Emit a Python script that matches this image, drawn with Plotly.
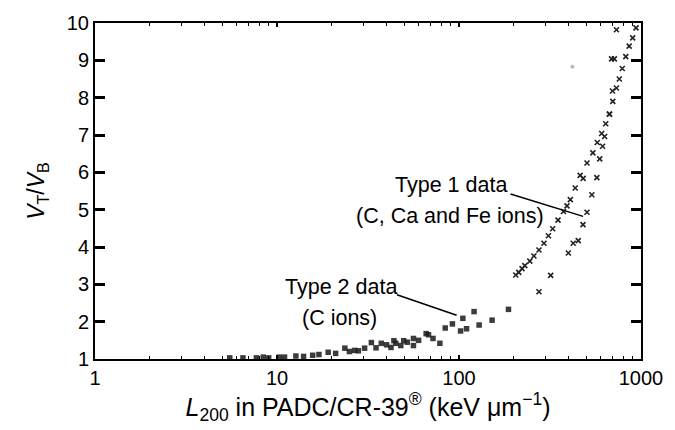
import plotly.graph_objects as go

# Type 1 data (C, Ca and Fe ions): two steep branches
type1a_let = [205, 213, 222, 230, 245, 258, 275, 293, 310, 327, 350, 375, 392, 409,
              435, 463, 481, 505, 544, 575, 608, 640, 671, 700, 733, 760, 789, 825,
              861, 900, 939]
type1a_ratio = [3.25, 3.32, 3.42, 3.5, 3.62, 3.76, 3.92, 4.1, 4.3, 4.49, 4.72, 4.95, 5.1, 5.27,
                5.58, 5.92, 5.84, 6.25, 6.52, 6.8, 7.04, 7.3, 7.56, 7.9, 8.26, 8.5, 8.78, 9.1,
                9.38, 9.6, 9.87]

type1b_let = [275, 319, 399, 424, 452, 480, 505, 537, 572, 593, 615, 631, 671, 697,
              689, 714, 733]
type1b_ratio = [2.8, 3.24, 3.84, 4.1, 4.17, 4.6, 4.93, 5.4, 5.86, 6.36, 6.7, 6.96, 7.56, 8.18,
                9.04, 9.04, 9.82]

# Type 2 data (C ions)
type2_let = [5.5, 6.5, 7.7, 8.4, 9, 10.3, 11, 12.7, 14, 15.7, 17, 19.1, 21, 23.6, 25,
             26.7, 28, 30.3, 33, 35, 37.4, 40, 42.3, 43.9, 45, 47.9, 49.7, 52, 56.2, 56.2,
             60, 66, 72, 78.5, 68, 84, 92, 102, 105, 110, 121, 129, 152, 187]
type2_ratio = [1.03, 1.03, 1.03, 1.05, 1.03, 1.05, 1.05, 1.08, 1.07, 1.1, 1.12, 1.18, 1.15,
               1.29, 1.2, 1.23, 1.22, 1.29, 1.44, 1.3, 1.42, 1.38, 1.31, 1.49, 1.42, 1.36,
               1.49, 1.45, 1.55, 1.36, 1.5, 1.68, 1.55, 1.42, 1.65, 1.83, 1.94, 1.75, 2.09,
               1.81, 2.27, 1.91, 2.04, 2.33]

# Isolated faint speck
stray_let = [420]
stray_ratio = [8.83]

x_ticks = [1, 10, 100, 1000]
x_minor = [m * 10 ** d for d in range(3) for m in range(2, 10)]
y_ticks = [1, 2, 3, 4, 5, 6, 7, 8, 9, 10]

FONT = "Liberation Sans, Arial, sans-serif"

fig = go.Figure()

mark_t1 = dict(symbol="x-thin", size=5, color="#222", line=dict(width=1.6, color="#222"))
fig.add_trace(go.Scatter(x=type1a_let, y=type1a_ratio, mode="markers",
                         marker=mark_t1, showlegend=False))
fig.add_trace(go.Scatter(x=type1b_let, y=type1b_ratio, mode="markers",
                         marker=mark_t1, showlegend=False))
fig.add_trace(go.Scatter(
    x=type2_let, y=type2_ratio, mode="markers",
    marker=dict(symbol="square", size=5.5, color="#1a1a1a", opacity=0.85,
                line=dict(width=0)),
    showlegend=False))
fig.add_trace(go.Scatter(
    x=stray_let, y=stray_ratio, mode="markers",
    marker=dict(symbol="circle", size=4, color="#bbbbbb", line=dict(width=0)),
    showlegend=False))

axis_common = dict(
    showline=True, linecolor="black", linewidth=2, mirror="allticks",
    ticks="inside", tickcolor="black", showgrid=False, zeroline=False,
    tickfont=dict(family=FONT, size=20, color="black"),
)

fig.update_xaxes(
    type="log", range=[0, 3], tickvals=x_ticks, ticktext=[str(v) for v in x_ticks],
    ticklen=4, tickwidth=1.5,
    minor=dict(tickvals=x_minor, ticks="inside", ticklen=3, tickwidth=1.2,
               tickcolor="black", showgrid=False),
    title=dict(text="<i>L</i><sub>200</sub> in PADC/CR-39<sup>®</sup> (keV μm<sup>−1</sup>)",
               font=dict(family=FONT, size=25, color="black"), standoff=6),
    **axis_common)

fig.update_yaxes(
    range=[1, 10], tickvals=y_ticks, ticklen=10, tickwidth=2.5,
    title=dict(text="<i>V</i><sub>T</sub>/<i>V</i><sub>B</sub>",
               font=dict(family=FONT, size=23, color="black"), standoff=16),
    **axis_common)

ann_font = dict(family=FONT, size=21.5, color="black")
fig.add_annotation(x=0.652, y=5.66, xref="paper", yref="y", text="Type 1 data",
                   showarrow=False, font=ann_font)
fig.add_annotation(x=0.651, y=4.82, xref="paper", yref="y", text="(C, Ca and Fe ions)",
                   showarrow=False, font=ann_font)
fig.add_annotation(x=0.451, y=2.93, xref="paper", yref="y", text="Type 2 data",
                   showarrow=False, font=ann_font)
fig.add_annotation(x=0.447, y=2.09, xref="paper", yref="y", text="(C ions)",
                   showarrow=False, font=ann_font)

# Leader lines from the labels to the data
fig.add_shape(type="line", xref="x", yref="y", x0=10**2.283, y0=5.42, x1=10**2.682, y1=4.82,
              line=dict(color="black", width=1.5))
fig.add_shape(type="line", xref="x", yref="y", x0=10**1.659, y0=2.72, x1=10**1.987, y1=2.17,
              line=dict(color="black", width=1.5))

fig.update_layout(
    width=675, height=430,
    margin=dict(l=95, r=23, t=13, b=71),
    paper_bgcolor="white", plot_bgcolor="white",
    font=dict(family=FONT, color="black"),
)

fig.write_html("out.html")
